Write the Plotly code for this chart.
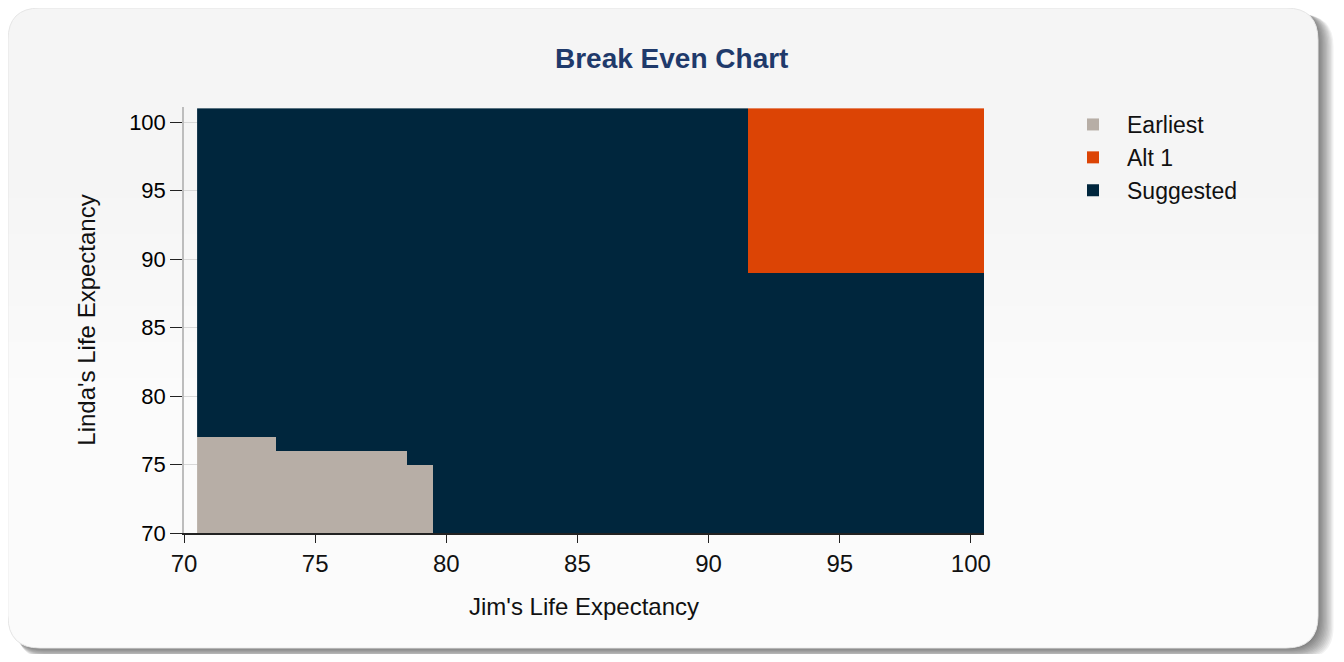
import plotly.graph_objects as go

# ---- data ----
jim_ages = list(range(71, 101))            # column centres (Jim)
linda_ages = list(range(70, 101))          # row starts (Linda), each row spans [a, a+1]
categories = ["Earliest", "Alt 1", "Suggested"]
colors = ["#b7aea6", "#dc4405", "#00263d"]
earliest_jim = [71, 72, 73, 74, 75, 76, 77, 78, 79]
earliest_linda_max = [76, 76, 76, 75, 75, 75, 75, 75, 74]
alt1_jim_min = 92
alt1_linda_min = 89
x_ticks = [70, 75, 80, 85, 90, 95, 100]
y_ticks = [70, 75, 80, 85, 90, 95, 100]

# ---- grid of categories ----
emax = dict(zip(earliest_jim, earliest_linda_max))
z = []
for ly in linda_ages:
    row = []
    for jx in jim_ages:
        v = 2
        if jx in emax and ly <= emax[jx]:
            v = 0
        if jx >= alt1_jim_min and ly >= alt1_linda_min:
            v = 1
        row.append(v)
    z.append(row)
y_edges = linda_ages + [linda_ages[-1] + 1]

W, H = 1328, 646
L, R, T, B = 176, 352, 99, 121
PW, PH = W - L - R, H - T - B


def px(x):
    return (x - L) / PW


def py(y):
    return (H - B - y) / PH


def rrect(x0, y0, x1, y1, r, top_round=True, bottom_round=True):
    tr = r if top_round else 0
    br = r if bottom_round else 0
    pts = [
        f"M{px(x0 + tr)},{py(y0)}",
        f"L{px(x1 - tr)},{py(y0)}",
        f"Q{px(x1)},{py(y0)} {px(x1)},{py(y0 + tr)}",
        f"L{px(x1)},{py(y1 - br)}",
        f"Q{px(x1)},{py(y1)} {px(x1 - br)},{py(y1)}",
        f"L{px(x0 + br)},{py(y1)}",
        f"Q{px(x0)},{py(y1)} {px(x0)},{py(y1 - br)}",
        f"L{px(x0)},{py(y0 + tr)}",
        f"Q{px(x0)},{py(y0)} {px(x0 + tr)},{py(y0)}",
        "Z",
    ]
    return " ".join(pts)


shapes = []
# shadow
for i in range(1, 13):
    shapes.append(dict(type="path", xref="paper", yref="paper", layer="below",
                       path=rrect(2 + i * 0.6, 2 + i * 0.4, 1310 + i * 1.3, 640 + i * 0.9, 32),
                       fillcolor="rgba(0,0,0,0.05)", line=dict(width=0)))
# panel
shapes.append(dict(type="path", xref="paper", yref="paper", layer="below",
                   path=rrect(0, 0, 1310, 640, 32), fillcolor="#f5f5f5",
                   line=dict(color="#e6e6e6", width=1)))
# vertical gradient towards white
for k in range(12):
    ytop = 190 + k * 36
    shapes.append(dict(type="path", xref="paper", yref="paper", layer="below",
                       path=rrect(0.5, ytop, 1309.5, 639.5, 32, top_round=False),
                       fillcolor="rgba(255,255,255,0.17)", line=dict(width=0)))

fig = go.Figure()
fig.add_trace(go.Heatmap(
    x=jim_ages, y=y_edges, z=z, zmin=0, zmax=2,
    colorscale=[[0, colors[0]], [0.5, colors[1]], [1, colors[2]]],
    showscale=False, hoverinfo="skip",
))
for name, c in zip(categories, colors):
    fig.add_trace(go.Scatter(x=[None], y=[None], mode="markers", name=name,
                             marker=dict(symbol="square", size=16, color=c)))

fig.add_annotation(text="<b>Break Even Chart</b>", xref="paper", yref="paper",
                   x=px(663), y=py(51), xanchor="center", yanchor="middle", showarrow=False,
                   font=dict(family="Liberation Sans", size=28, color="#1f3a6b"))

font_family = "Liberation Sans"
fig.update_layout(
    width=W, height=H,
    margin=dict(l=L, r=R, t=T, b=B),
    paper_bgcolor="white",
    plot_bgcolor="rgba(240,240,240,0.6)",
    shapes=shapes,
    showlegend=True,
    legend=dict(x=px(1051), y=py(95), xanchor="left", yanchor="top",
                bgcolor="rgba(0,0,0,0)", font=dict(family=font_family, size=23, color="#111"),
                itemsizing="constant", itemwidth=58, tracegroupgap=0),
    xaxis=dict(range=[70, 100.5], tickvals=x_ticks, ticks="outside", ticklen=8,
               tickcolor="#222", showline=True, linecolor="#222", linewidth=1.5,
               showgrid=False, zeroline=False,
               tickfont=dict(family=font_family, size=24, color="#111"),
               title=dict(text="Jim's Life Expectancy", standoff=23,
                          font=dict(family=font_family, size=24, color="#111"))),
    yaxis=dict(range=[70, 101.1], tickvals=y_ticks, ticks="outside", ticklen=12,
               tickcolor="#222", showline=True, linecolor="#bdbdbd", linewidth=1.5,
               showgrid=True, gridcolor="#d8d8d8", zeroline=False,
               tickfont=dict(family=font_family, size=22, color="#000"),
               title=dict(text="Linda's Life Expectancy", standoff=27,
                          font=dict(family=font_family, size=24, color="#111"))),
)
fig.write_html("out.html")
